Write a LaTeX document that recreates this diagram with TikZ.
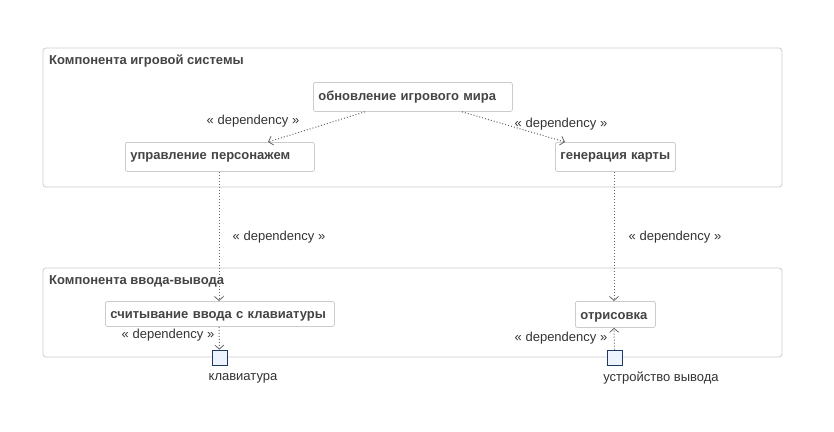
\documentclass[tikz,border=0pt]{standalone}
\usepackage{fontspec}
\setmainfont{Liberation Sans}
\usetikzlibrary{arrows.meta,calc}
\definecolor{frameC}{HTML}{CCCCCC}
\definecolor{txtC}{HTML}{444444}
\definecolor{lblC}{HTML}{333333}
\definecolor{lineC}{HTML}{666666}
\definecolor{portF}{HTML}{EEF4FF}
\definecolor{portD}{HTML}{1F3A5F}
\tikzset{
  frame/.style={draw=frameC, rounded corners=3pt, line width=0.8pt},
  ftitle/.style={anchor=west, inner sep=0pt, text=txtC, font=\fontsize{13}{15}\selectfont\bfseries},
  comp/.style={draw=frameC, rounded corners=2pt, line width=0.8pt, anchor=north west, inner xsep=5pt, inner ysep=0pt, align=left, text=txtC, font=\fontsize{13}{15}\selectfont\bfseries},
  dep/.style={draw=lineC, dotted, line width=1pt, -{Straight Barb[length=4pt,width=9pt,line width=0.8pt]}},
  deplbl/.style={text=lblC, inner sep=0pt, font=\fontsize{13}{15}\selectfont},
  port/.style={draw=portD, fill=portF, line width=0.8pt, minimum size=15pt, inner sep=0pt},
  portlbl/.style={text=lblC, inner sep=0pt, font=\fontsize{13}{15}\selectfont},
}
\begin{document}
\begin{tikzpicture}[x=1pt,y=-1pt]
\useasboundingbox (0,0) rectangle (834,431);
\fill[white] (0,0) rectangle (834,431);
% frames
\draw[frame] (43,48) rectangle (782,187);
\node[ftitle] (t1) at (49,61) {Компонента игровой системы};
\draw[frame] (43,268) rectangle (782,357);
\node[ftitle] (t2) at (49,281) {Компонента ввода-вывода};
% components
\node[comp, text width=189pt, minimum height=29pt] (upd) at (313,82) {обновление игрового мира};
\node[comp, text width=179pt, minimum height=29pt] (ctl) at (125,142) {управление персонажем};
\node[comp, text width=110pt, minimum height=29pt] (gen) at (555,142) {\mbox{генерация карты}};
\node[comp, text width=219pt, minimum height=25pt, text height=13pt, text depth=3pt] (rd) at (105,301) {считывание ввода с клавиатуры};
\node[comp, text width=70pt, minimum height=26pt, text height=13pt, text depth=3pt] (drw) at (575,301) {отрисовка};
% ports
\node[port] (kbd) at (219.5,357.5) {};
\node[port] (out) at (614.5,357.5) {};
\node[portlbl] (kbdl) at (243,378) {клавиатура};
\node[portlbl] (outl) at (661,378) {устройство вывода};
% connectors
\draw[dep] ([xshift=52pt]upd.south west) -- ([xshift=143pt]ctl.north west);
\draw[dep] ([xshift=149pt]upd.south west) -- ([xshift=10pt]gen.north west);
\draw[dep] ([xshift=94pt]ctl.south west) -- ([xshift=114pt]rd.north west);
\draw[dep] ([xshift=59pt]gen.south west) -- ([xshift=39pt]drw.north west);
\draw[dep] ([xshift=114pt]rd.south west) -- (kbd.north);
\draw[dep] (out.north) -- ([xshift=39pt]drw.south west);
% labels
\node[deplbl] (l1) at (253,121) {« dependency »};
\node[deplbl] (l2) at (561,124) {« dependency »};
\node[deplbl] (l3) at (279,237) {« dependency »};
\node[deplbl] (l4) at (675,237) {« dependency »};
\node[deplbl] (l5) at (168,335) {« dependency »};
\node[deplbl] (l6) at (561,338) {« dependency »};
\end{tikzpicture}
\end{document}
